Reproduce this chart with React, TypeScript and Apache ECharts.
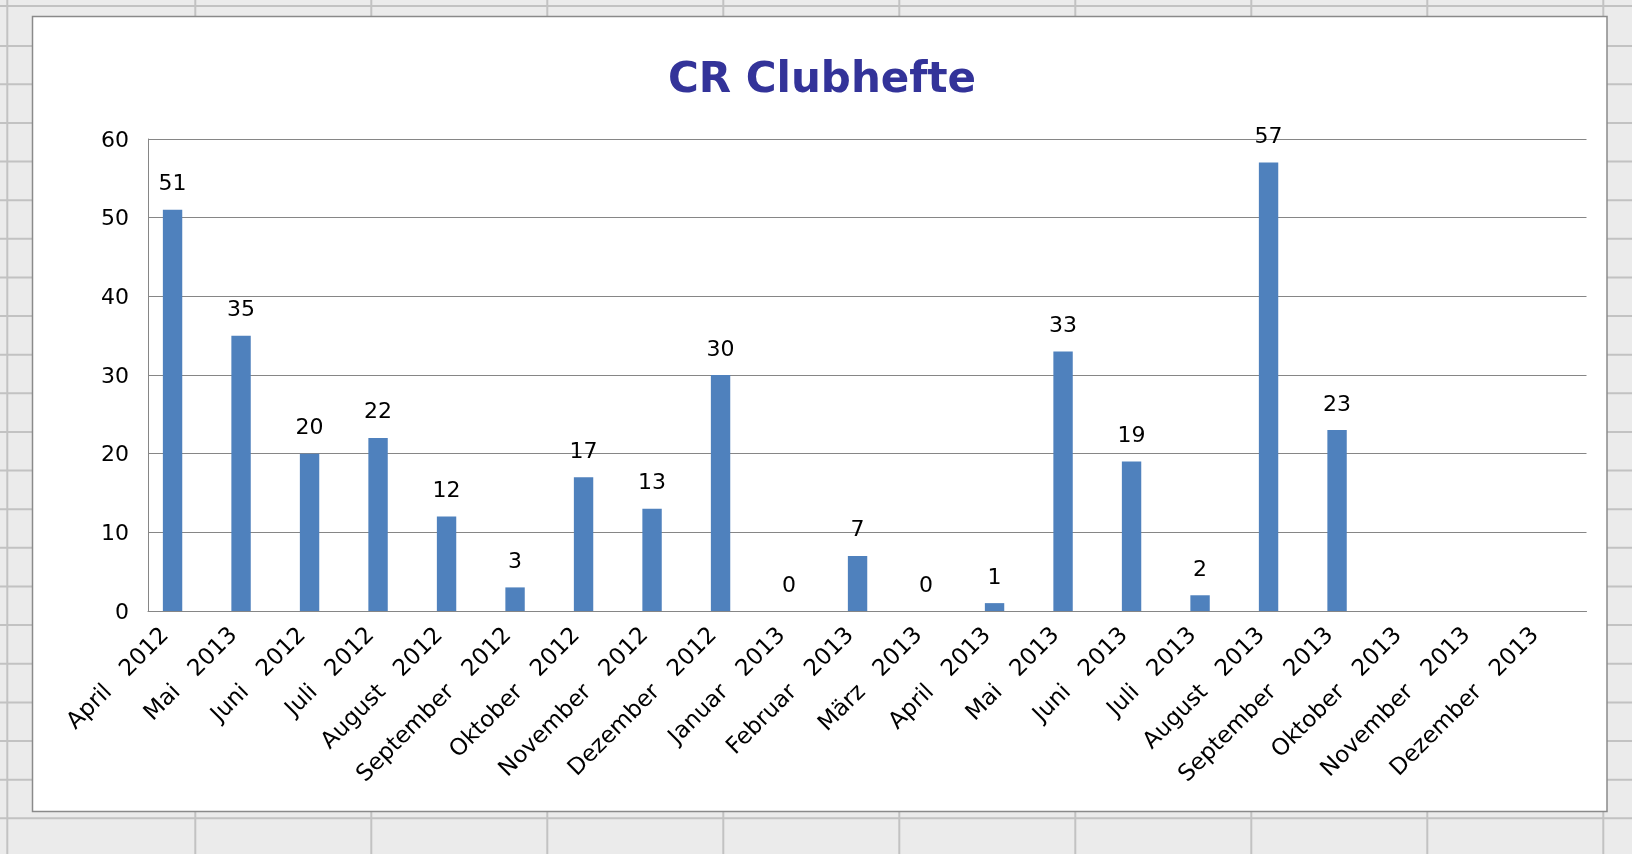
import React, { useEffect, useRef } from "react";
import * as echarts from "echarts";

// ---- data ----
const months = [
  "April", "Mai", "Juni", "Juli", "August", "September", "Oktober", "November", "Dezember",
  "Januar", "Februar", "März", "April", "Mai", "Juni", "Juli", "August", "September",
  "Oktober", "November", "Dezember",
];
const years = [
  "2012", "2013", "2012", "2012", "2012", "2012", "2012", "2012", "2012",
  "2013", "2013", "2013", "2013", "2013", "2013", "2013", "2013", "2013",
  "2013", "2013", "2013",
];
const clubhefte: (number | null)[] = [
  51, 35, 20, 22, 12, 3, 17, 13, 30, 0, 7, 0, 1, 33, 19, 2, 57, 23, null, null, null,
];
// second (empty) series of the original workbook chart
const reihe2: (number | null)[] = [
  null, null, null, null, null, null, null, null, null, null, null,
  null, null, null, null, null, null, null, null, null, null,
];
const yMin = 0;
const yMax = 60;
const yStep = 10;

const categories = months.map((m, i) => `${m}   ${years[i]}`);

const W = 1632;
const H = 854;

function buildBackground() {
  const els: any[] = [];
  els.push({
    type: "rect",
    z: -20,
    silent: true,
    shape: { x: 0, y: 0, width: W, height: H },
    style: { fill: "#ebebeb" },
  });
  const vx = [7.3];
  for (let x = 195.3; x < W; x += 176) vx.push(x);
  vx.forEach((x) =>
    els.push({
      type: "rect",
      z: -19,
      silent: true,
      shape: { x: x - 1, y: 0, width: 2, height: H },
      style: { fill: "#c2c2c2" },
    })
  );
  const hy = [6, 46];
  for (let y = 84.3; y < H; y += 38.63) hy.push(y);
  hy.forEach((y) =>
    els.push({
      type: "rect",
      z: -19,
      silent: true,
      shape: { x: 0, y: y - 1, width: W, height: 2 },
      style: { fill: "#c2c2c2" },
    })
  );
  els.push({
    type: "rect",
    z: -10,
    silent: true,
    shape: { x: 32.5, y: 16.5, width: 1574.5, height: 795 },
    style: { fill: "#ffffff", stroke: "#8a8a8a", lineWidth: 1.5 },
  });
  return els;
}

export default function App() {
  const ref = useRef<HTMLDivElement>(null);
  useEffect(() => {
    if (!ref.current) return;
    const chart = echarts.init(ref.current, undefined, { renderer: "svg" });
    const font = "'DejaVu Sans', Verdana, sans-serif";
    chart.setOption({
      animation: false,
      backgroundColor: "transparent",
      graphic: buildBackground(),
      title: {
        text: "CR Clubhefte",
        left: 817,
        top: 51,
        textAlign: "center",
        textStyle: {
          fontFamily: font,
          fontWeight: "bold",
          fontSize: 42,
          color: "#333399",
        },
      },
      grid: { left: 148, top: 139, width: 1438.5, height: 472, containLabel: false },
      xAxis: {
        type: "category",
        data: categories,
        axisTick: { show: false },
        axisLine: { lineStyle: { color: "#868686", width: 1 } },
        axisLabel: {
          interval: 0,
          rotate: 45,
          margin: 1,
          padding: [0, 26, 0, 0],
          fontFamily: font,
          fontSize: 23,
          color: "#000",
        },
      },
      yAxis: {
        type: "value",
        min: yMin,
        max: yMax,
        interval: yStep,
        axisLine: { show: true, lineStyle: { color: "#868686", width: 1 } },
        axisTick: { show: false },
        splitLine: { lineStyle: { color: "#868686", width: 1 } },
        axisLabel: { margin: 19, fontFamily: font, fontSize: 22, color: "#000" },
      },
      series: [
        {
          name: "CR Clubhefte",
          type: "bar",
          data: clubhefte,
          barGap: "0%",
          barCategoryGap: "43.4%",
          itemStyle: { color: "#4f81bd" },
          label: {
            show: true,
            position: "top",
            distance: 16,
            fontFamily: font,
            fontSize: 22,
            color: "#000",
          },
        },
        {
          name: "Reihe2",
          type: "bar",
          data: reihe2,
          itemStyle: { color: "#c0504d" },
        },
      ],
    });
    return () => chart.dispose();
  }, []);
  return (
    <div
      ref={ref}
      style={{ position: "fixed", left: 0, top: 0, width: W, height: H }}
    />
  );
}
